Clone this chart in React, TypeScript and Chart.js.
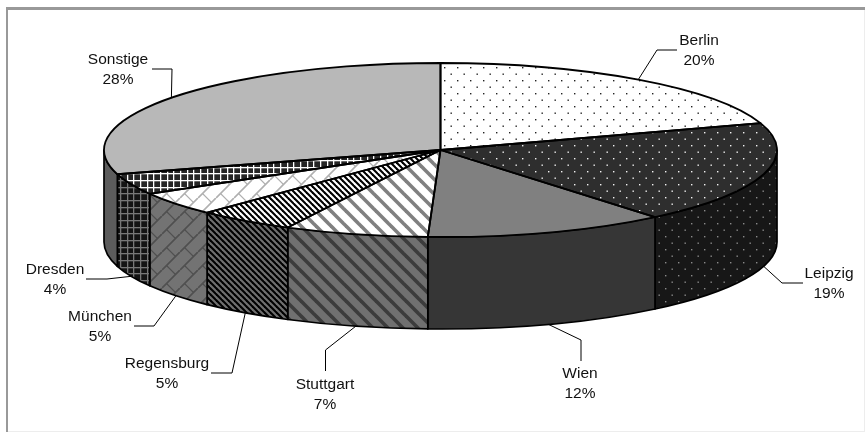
import React, { useEffect, useRef } from "react";
import { Chart, registerables } from "chart.js";

Chart.register(...registerables);

const cities = ["Berlin", "Leipzig", "Wien", "Stuttgart", "Regensburg", "München", "Dresden", "Sonstige"];
const percentLabels = ["20%", "19%", "12%", "7%", "5%", "5%", "4%", "28%"];
const shares = [20, 19, 11.6, 6.9, 4.7, 4.4, 3.9, 29.5];

// layout
const W = 865;
const H = 432;
const OX = 440.5;
const OY = 150;
const RX = 336.5;
const RY = 87;
const DEPTH = 92;
const labelCentres = [[699, 40.5], [829, 273.5], [580, 373.5], [325, 384.5], [167, 363.5], [100, 316.5], [55, 269.5], [118, 59.5]];
const leaderElbows = [[657, 50], [782, 283], [581, 340], [325.5, 350], [232, 373], [154, 326], [107, 279], [172, 69]];
const leaderEnds = [[677, 50], [803, 283], [581, 361], [325.5, 371], [211, 373], [134, 326], [86, 279], [152, 69]];

function tile(size: number, paint: (c: CanvasRenderingContext2D) => void) {
  const cv = document.createElement("canvas");
  cv.width = size;
  cv.height = size;
  const c = cv.getContext("2d") as CanvasRenderingContext2D;
  paint(c);
  return c.createPattern(cv, "repeat") as CanvasPattern;
}
const dots = (bg: string, fg: string) =>
  tile(13, (c) => {
    c.fillStyle = bg;
    c.fillRect(0, 0, 13, 13);
    c.fillStyle = fg;
    c.fillRect(2, 2, 1.4, 1.4);
    c.fillRect(8.5, 8.5, 1.4, 1.4);
  });
const stripes = (t: number, w: number, bg: string, fg: string) =>
  tile(t, (c) => {
    c.fillStyle = bg;
    c.fillRect(0, 0, t, t);
    c.strokeStyle = fg;
    c.lineWidth = w;
    for (let k = -2; k <= 2; k++) {
      c.beginPath();
      c.moveTo(k * t - t, -t);
      c.lineTo(k * t + 2 * t, 2 * t);
      c.stroke();
    }
  });
const grid = (bg: string, fg: string) =>
  tile(20, (c) => {
    c.fillStyle = bg;
    c.fillRect(0, 0, 20, 20);
    c.fillStyle = fg;
    for (let k = 0; k < 3; k++) {
      c.fillRect(Math.round((k * 20) / 3), 0, 1.3, 20);
      c.fillRect(0, Math.round((k * 20) / 3), 20, 1.3);
    }
  });
const bricks = (bg: string, fg: string) =>
  tile(18, (c) => {
    const t = 18;
    c.fillStyle = bg;
    c.fillRect(0, 0, t, t);
    c.strokeStyle = fg;
    c.lineWidth = 1.2;
    for (const [dx, dy] of [[0, 0], [t, 0], [0, t], [-t, 0], [0, -t]]) {
      c.beginPath();
      c.moveTo(dx - t, dy + t);
      c.lineTo(dx + t, dy - t);
      c.moveTo(dx + t, dy + t);
      c.lineTo(dx + 2 * t, dy);
      c.moveTo(dx + 4.5, dy + 13.5);
      c.lineTo(dx + 13.5, dy + 22.5);
      c.stroke();
    }
  });

export default function App() {
  const ref = useRef<HTMLCanvasElement>(null);
  useEffect(() => {
    const topFills: (string | CanvasPattern)[] = [
      dots("#ffffff", "#222222"),
      dots("#2e2e2e", "#f2f2f2"),
      "#808080",
      stripes(15, 3.6, "#ffffff", "#808080"),
      stripes(6, 2.1, "#ffffff", "#000000"),
      bricks("#ffffff", "#b0b0b0"),
      grid("#262626", "#ffffff"),
      "#b8b8b8",
    ];
    const sideFills: (string | CanvasPattern)[] = [
      dots("#808080", "#222222"),
      dots("#171717", "#8a8a8a"),
      "#363636",
      stripes(15, 3.6, "#707070", "#3c3c3c"),
      stripes(6, 2.1, "#707070", "#000000"),
      bricks("#737373", "#505050"),
      grid("#141414", "#787878"),
      "#5c5c5c",
    ];

    const arcsOf = (chart: Chart) => chart.getDatasetMeta(0).data as any[];

    const plugin = {
      id: "pie3d",
      beforeDraw(chart: Chart) {
        const c = chart.ctx;
        c.save();
        c.fillStyle = "#ffffff";
        c.fillRect(0, 0, W, H);
        c.fillStyle = "#ededed";
        c.fillRect(W - 1, 7, 1, H - 7);
        c.fillRect(6, H - 1, W - 6, 1);
        c.fillStyle = "#999999";
        c.fillRect(6, 7, W - 6, 3);
        c.fillRect(6, 7, 2, H - 7);
        c.restore();
      },
      beforeDatasetsDraw(chart: Chart) {
        const c = chart.ctx;
        const arcs = arcsOf(chart);
        // extruded wall
        arcs.forEach((arc, i) => {
          const a0 = Math.max(arc.startAngle, 0);
          const a1 = Math.min(arc.endAngle, Math.PI);
          if (a1 <= a0) return;
          c.save();
          c.beginPath();
          c.ellipse(OX, OY, RX, RY, 0, a0, a1);
          c.lineTo(OX + RX * Math.cos(a1), OY + DEPTH + RY * Math.sin(a1));
          c.ellipse(OX, OY + DEPTH, RX, RY, 0, a1, a0, true);
          c.closePath();
          c.fillStyle = sideFills[i] as any;
          c.fill();
          c.strokeStyle = "#000000";
          c.lineWidth = 1.7;
          c.lineJoin = "round";
          c.stroke();
          c.restore();
        });
        // flatten the library's slices onto the ellipse
        const { x: cx, y: cy, outerRadius: R } = arcs[0];
        const sx = RX / R;
        const sy = RY / R;
        topFills.forEach((f) => {
          if (typeof f !== "string") {
            f.setTransform(new DOMMatrix([1 / sx, 0, 0, 1 / sy, cx - OX / sx, cy - OY / sy]));
          }
        });
        c.save();
        c.translate(OX, OY);
        c.scale(sx, sy);
        c.translate(-cx, -cy);
      },
      afterDatasetsDraw(chart: Chart) {
        const c = chart.ctx;
        c.restore();
        const arcs = arcsOf(chart);
        c.save();
        c.strokeStyle = "#000000";
        c.lineWidth = 1.8;
        c.lineJoin = "round";
        arcs.forEach((arc) => {
          c.beginPath();
          c.moveTo(OX, OY);
          c.ellipse(OX, OY, RX, RY, 0, arc.startAngle, arc.endAngle);
          c.closePath();
          c.stroke();
        });
        c.restore();

        // leaders and labels
        c.save();
        arcs.forEach((arc, i) => {
          const mid = (arc.startAngle + arc.endAngle) / 2;
          const ax = OX + RX * Math.cos(mid);
          const ay = OY + RY * Math.sin(mid) + (Math.sin(mid) > 0 ? DEPTH : 0);
          c.strokeStyle = "#000000";
          c.lineWidth = 1;
          c.beginPath();
          c.moveTo(ax, ay);
          c.lineTo(leaderElbows[i][0], leaderElbows[i][1]);
          c.lineTo(leaderEnds[i][0], leaderEnds[i][1]);
          c.stroke();
          c.fillStyle = "#111111";
          c.font = '15.5px "Liberation Sans"';
          c.textAlign = "center";
          c.textBaseline = "middle";
          c.fillText(cities[i], labelCentres[i][0], labelCentres[i][1]);
          c.fillText(percentLabels[i], labelCentres[i][0], labelCentres[i][1] + 20);
        });
        c.restore();
      },
    };

    const chart = new Chart(ref.current as HTMLCanvasElement, {
      type: "pie",
      data: {
        labels: cities,
        datasets: [
          {
            data: shares,
            backgroundColor: topFills as any,
            borderWidth: 0,
            clip: false as any,
          },
        ],
      },
      options: {
        animation: false,
        responsive: false,
        devicePixelRatio: 1,
        events: [],
        plugins: { legend: { display: false }, tooltip: { enabled: false } },
      },
      plugins: [plugin as any],
    });
    return () => chart.destroy();
  }, []);

  return (
    <div style={{ position: "absolute", left: 0, top: 0, width: W, height: H }}>
      <canvas ref={ref} width={W} height={H} style={{ display: "block" }} />
    </div>
  );
}
